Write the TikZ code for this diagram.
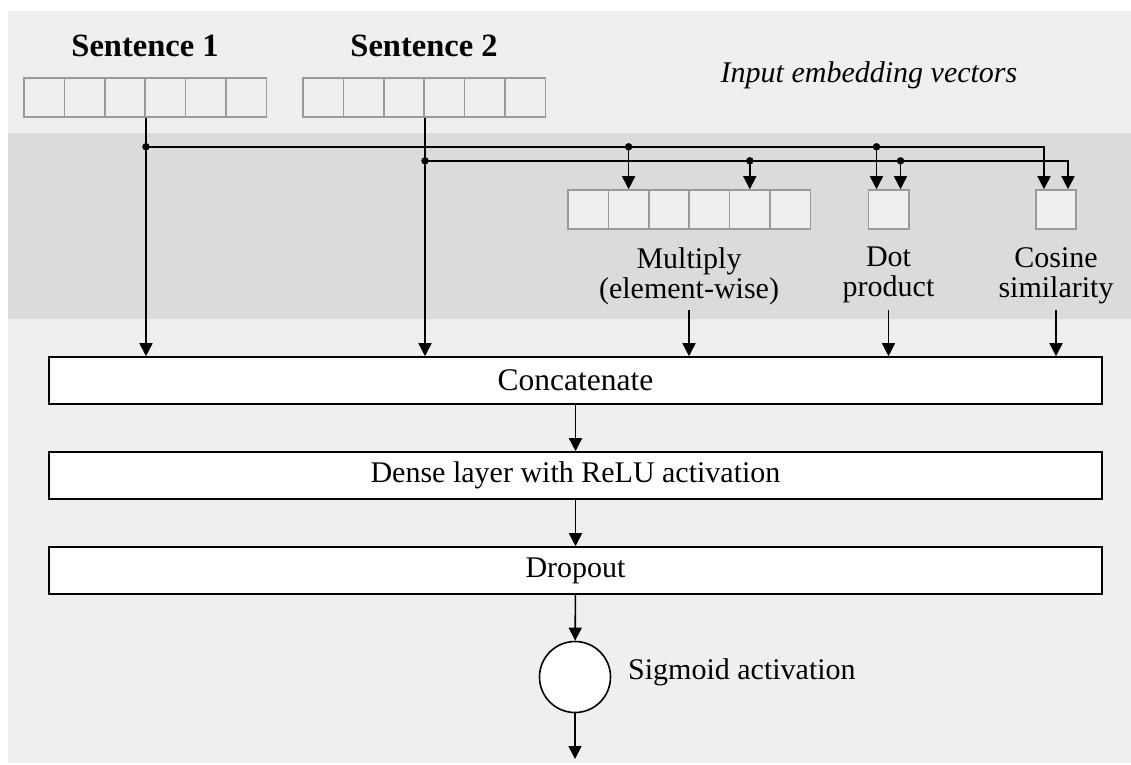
\documentclass[tikz,border=0pt]{standalone}
\usepackage{fontspec}
\setmainfont{Liberation Serif}
\usetikzlibrary{arrows.meta,calc}
\definecolor{bgl}{HTML}{EFEFEF}
\definecolor{bgd}{HTML}{DBDBDB}
\definecolor{cellb}{HTML}{9A9A9A}
\newcommand\txt{\fontsize{30}{30}\selectfont}
\newcommand\btxt{\fontsize{32.5}{33}\selectfont\bfseries}
\tikzset{
 cell/.style={draw=cellb,fill=bgl,line width=1.6pt,minimum width=40.4pt,minimum height=39pt,inner sep=0pt},
 layer/.style={draw=black,fill=white,line width=1.6pt,minimum width=1053pt,minimum height=47pt,inner sep=0pt,font=\txt},
 conn/.style={line width=1.6pt,draw=black},
 arr/.style={conn,-{Triangle[length=13pt,width=13pt]}},
 jdot/.style={circle,fill=black,inner sep=0pt,minimum size=7.5pt},
 lbl/.style={inner sep=0pt,font=\txt,align=center},
}
\begin{document}
\begin{tikzpicture}[x=1pt,y=-1pt]
\useasboundingbox (0,0) rectangle (1131,764);
\fill[bgl] (8,11) rectangle (1131,763);
\fill[bgd] (8,133) rectangle (1131,319);

% labels
\node[lbl,font=\btxt] (t1) at (145,46) {Sentence 1};
\node[lbl,font=\btxt] (t2) at (424,46) {Sentence 2};
\node[lbl,font=\txt\itshape,anchor=base] (tin) at (869,82) {Input embedding vectors};

% vectors
\foreach \i in {1,...,6}{
  \node[cell] (sa\i) at ({24+40.4*(\i-0.5)},97.5) {};
  \node[cell] (sb\i) at ({303+40.4*(\i-0.5)},97.5) {};
  \node[cell] (m\i) at ({568+40.4*(\i-0.5)},209.5) {};
}
\node[cell] (dotb) at (888.5,209.5) {};
\node[cell] (cosb) at (1056,209.5) {};

\node[lbl,anchor=north] (lm) at (689,247) {Multiply\\(element-wise)};
\node[lbl,anchor=north] (ld) at (888.5,247) {Dot\\product};
\node[lbl,anchor=north] (lc) at (1056,247) {Cosine\\similarity};

% layers
\node[layer,font=\fontsize{31.5}{32}\selectfont] (concat) at (575.5,380.5) {Concatenate};
\node[layer] (dense) at (575.5,475.5) {Dense layer with ReLU activation};
\node[layer] (drop) at (575.5,570.5) {Dropout};
\node[circle,draw=black,fill=white,line width=1.6pt,minimum size=71pt,inner sep=0pt] (sig) at (575,677) {};
\node[lbl,anchor=mid west] (sigl) at (628,677) {Sigmoid activation};
\coordinate (out) at (575,759);

% splits
\coordinate (s1) at (sa3.south east);
\coordinate (s2) at (sb3.south east);
\coordinate (j1) at ($(s1)+(0,29)$);
\coordinate (j2) at ($(s2)+(0,43)$);

\draw[arr] (s1) -- (s1 |- concat.north);
\draw[arr] (s2) -- (s2 |- concat.north);
\draw[arr] (j1) -| ([xshift=-12pt]cosb.north);
\draw[arr] (j2) -| ([xshift=12pt]cosb.north);
\draw[arr] (m2.north |- j1) -- (m2.north);
\draw[arr] (m5.north |- j2) -- (m5.north);
\draw[arr] ([xshift=-12pt]dotb.north |- j1) -- ([xshift=-12pt]dotb.north);
\draw[arr] ([xshift=12pt]dotb.north |- j2) -- ([xshift=12pt]dotb.north);

\node[jdot] (d1) at (j1) {};
\node[jdot] (d2) at (j2) {};
\node[jdot] (d3) at (m2.north |- j1) {};
\node[jdot] (d4) at (m5.north |- j2) {};
\node[jdot] (d5) at ([xshift=-12pt]dotb.north |- j1) {};
\node[jdot] (d6) at ([xshift=12pt]dotb.north |- j2) {};

\draw[arr] (lm.south |- 0,310) -- (lm.south |- concat.north);
\draw[arr] (ld.south |- 0,310) -- (ld.south |- concat.north);
\draw[arr] (lc.south |- 0,310) -- (lc.south |- concat.north);

\draw[arr] (concat) -- (dense);
\draw[arr] (dense) -- (drop);
\draw[arr] (drop) -- (sig);
\draw[arr] (sig) -- (out);
\end{tikzpicture}
\end{document}
